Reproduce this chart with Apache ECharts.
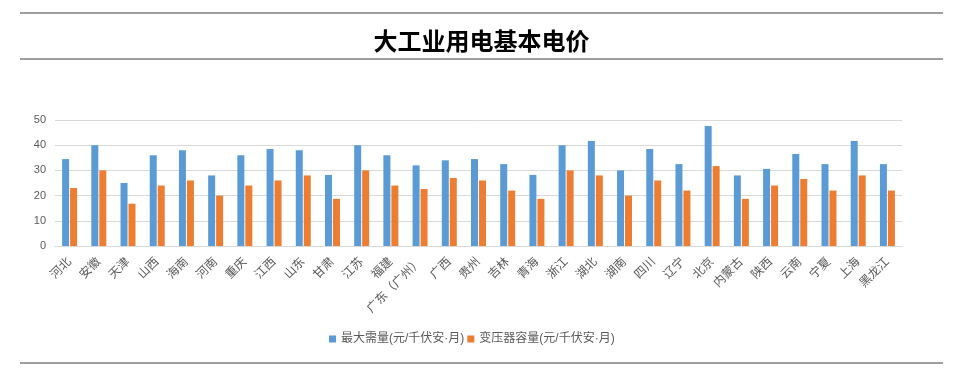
<!DOCTYPE html>
<html><head><meta charset="utf-8">
<script src="https://cdn.jsdelivr.net/npm/echarts@6/dist/echarts.min.js"></script>
<style>html,body{margin:0;padding:0;background:#fff}#c{width:963px;height:388px}</style>
</head><body><div id="c"></div>
<script>
const categories = ['河北','安徽','天津','山西','海南','河南','重庆','江西','山东','甘肃','江苏','福建','广东（广州）','广西','贵州','吉林','青海','浙江','湖北','湖南','四川','辽宁','北京','内蒙古','陕西','云南','宁夏','上海','黑龙江'];
const maxDemand = [34.5,40,25,36,38,28,36,38.5,38,28.2,40,36,32,34,34.5,32.5,28.2,40,41.7,30,38.5,32.5,47.6,28,30.6,36.5,32.5,41.7,32.5];
const transformerCap = [23,30,16.8,24,26,20,24,26,28,18.7,30,24,22.6,27,26,22,18.7,30,28,20,26,22,31.7,18.7,24,26.6,22,28,22];
const seriesNames = ['最大需量(元/千伏安·月)','变压器容量(元/千伏安·月)'];
const yTicks = {min:0, max:50, interval:10};

const font = '"Liberation Sans", "Noto Sans CJK SC", sans-serif';
const chart = echarts.init(document.getElementById('c'));
chart.setOption({
  animation:false,
  textStyle:{fontFamily:font},
  title:{text:'大工业用电基本电价', left:'center', top:24,
    textStyle:{fontSize:24, fontWeight:'bold', color:'#000', fontFamily:'"Noto Sans CJK SC", sans-serif'}},
  graphic:[
    {type:'line', shape:{x1:20,y1:13,x2:943,y2:13}, style:{stroke:'#7f7f7f', lineWidth:1.5}},
    {type:'line', shape:{x1:20,y1:59,x2:943,y2:59}, style:{stroke:'#7f7f7f', lineWidth:1.5}},
    {type:'line', shape:{x1:20,y1:363,x2:943,y2:363}, style:{stroke:'#7f7f7f', lineWidth:1.5}}
  ],
  legend:{bottom:38, left:324, itemWidth:7, itemHeight:7, itemGap:3, icon:'rect',
    textStyle:{fontSize:12, color:'#595959', fontFamily:font}},
  grid:{left:55, right:61, top:120, bottom:142, containLabel:false},
  xAxis:{type:'category', data:categories,
    axisLine:{lineStyle:{color:'#d9d9d9'}}, axisTick:{show:false},
    axisLabel:{rotate:45, interval:0, color:'#595959', fontSize:12, margin:14, fontFamily:font}},
  yAxis:{type:'value', min:yTicks.min, max:yTicks.max, interval:yTicks.interval,
    axisLine:{show:false}, axisTick:{show:false},
    splitLine:{lineStyle:{color:'#d9d9d9'}},
    axisLabel:{color:'#595959', fontSize:11, margin:9, fontFamily:font}},
  series:[
    {name:seriesNames[0], type:'bar', data:maxDemand, barWidth:7, barGap:'14%', itemStyle:{color:'#5b9bd5'}},
    {name:seriesNames[1], type:'bar', data:transformerCap, barWidth:7, itemStyle:{color:'#ed7d31'}}
  ]
});
</script></body></html>
